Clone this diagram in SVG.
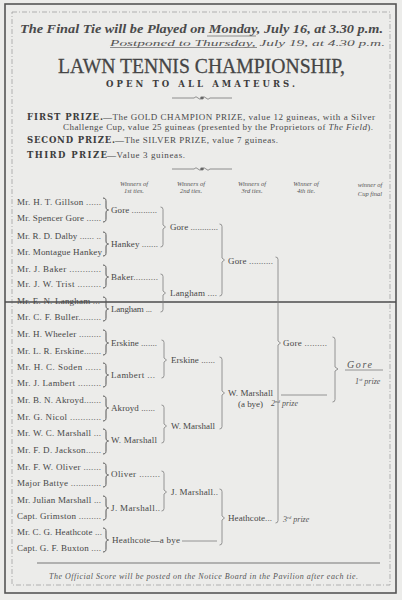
<svg xmlns="http://www.w3.org/2000/svg" width="402" height="600" viewBox="0 0 402 600">
<style>
.nm{font-family:"Liberation Serif",serif;font-size:9px;fill:#474747}
.hd{font-family:"Liberation Serif",serif;font-style:italic;font-size:6.5px;fill:#555}
.hw{font-family:"Liberation Serif",serif;font-style:italic;fill:#555}
.pr{font-family:"DejaVu Serif",serif;font-weight:bold;font-size:8.5px;fill:#3d3d3d}
.tx{font-family:"Liberation Serif",serif;font-size:9px;fill:#4a4a4a}
.br{fill:none;stroke:#7d7d7d;stroke-width:0.8}
.cb{fill:none;stroke:#555;stroke-width:1}
.ln{fill:none;stroke:#777;stroke-width:0.8}
</style>
<rect width="402" height="600" fill="#ececea"/>
<g id="frame">
<rect x="5" y="4" width="391" height="589" fill="none" stroke="#555" stroke-width="1.6"/>
<rect x="12" y="12" width="378" height="573" fill="none" stroke="#9a9a9a" stroke-width="0.7" stroke-dasharray="5 2 1 2"/>
<path d="M5,302 H396" stroke="#4d4d4d" stroke-width="1.6"/>
<path d="M37,563 H380" stroke="#777" stroke-width="1.2"/>
</g>
<g id="header">
<text x="20" y="33" textLength="363" lengthAdjust="spacingAndGlyphs" font-family="Liberation Serif, serif" font-style="italic" font-weight="bold" font-size="13.5" fill="#4a4a4a">The Final Tie will be Played on Monday, July 16, at 3.30 p.m.</text>
<path d="M207,36 H256" class="ln"/>
<text x="110" y="46" textLength="275" lengthAdjust="spacingAndGlyphs" class="hw" font-size="9" fill="#666">Postponed to Thursday, July 19, at 4.30 p.m.</text>
<path d="M110,47.5 H257" class="ln" stroke-width="0.6"/>
<text x="58" y="73" textLength="287" lengthAdjust="spacingAndGlyphs" font-family="Liberation Serif, serif" font-size="22" fill="#454545" stroke="#454545" stroke-width="0.3">LAWN TENNIS CHAMPIONSHIP,</text>
<text x="106" y="87" textLength="189" class="pr" font-size="7.5">OPEN TO ALL AMATEURS.</text>
<g class="ln">
<path d="M172,98 H194 M210,98 H232"/>
<path d="M194,98 q2,-2.5 4,0 q2,2.5 4,0 q2,-2.5 4,0 q2,2.5 4,0"/>
<path d="M172,169 H194 M210,169 H232"/>
<path d="M194,169 q2,-2.5 4,0 q2,2.5 4,0 q2,-2.5 4,0 q2,2.5 4,0"/>
</g>
<ellipse cx="202" cy="98" rx="1.8" ry="1.4" fill="#666"/>
<ellipse cx="202" cy="169" rx="1.8" ry="1.4" fill="#666"/>
<text x="27" y="120" textLength="76" class="pr">FIRST PRIZE.</text>
<text x="103" y="120" textLength="272" class="tx">—The GOLD CHAMPION PRIZE, value 12 guineas, with a Silver</text>
<text x="63" y="130" textLength="310" class="tx">Challenge Cup, value 25 guineas (presented by the Proprietors of <tspan font-style="italic">The Field</tspan>).</text>
<text x="27" y="143" textLength="88" class="pr">SECOND PRIZE.</text>
<text x="115" y="143" textLength="163" class="tx">—The SILVER PRIZE, value 7 guineas.</text>
<text x="27" y="158" textLength="80" class="pr">THIRD PRIZE</text>
<text x="107" y="158" textLength="78" class="tx"> —Value 3 guineas.</text>
</g>
<g id="column-heads" text-anchor="middle">
<text x="134" y="185.5" class="hd">Winners of</text><text x="134" y="193" class="hd">1st ties.</text>
<text x="191" y="185.5" class="hd">Winners of</text><text x="191" y="193" class="hd">2nd ties.</text>
<text x="252" y="185.5" class="hd">Winners of</text><text x="252" y="193" class="hd">3rd ties.</text>
<text x="306" y="185.5" class="hd">Winner of</text><text x="306" y="193" class="hd">4th tie.</text>
<text x="370" y="187" class="hw" font-size="6.5">winner of</text><text x="370" y="196" class="hw" font-size="6.5">Cup final</text>
</g>
<g id="players">
<g id="p01"><text x="17" y="205" textLength="84" class="nm">Mr. H. T. Gillson ......</text></g>
<g id="p02"><text x="17" y="221" textLength="84" class="nm">Mr. Spencer Gore ......</text></g>
<g id="p03"><text x="17" y="239" textLength="84" class="nm">Mr. R. D. Dalby ...... ..</text></g>
<g id="p04"><text x="17" y="255" textLength="85" class="nm">Mr. Montague Hankey</text></g>
<g id="p05"><text x="17" y="272" textLength="84" class="nm">Mr. J. Baker ............</text></g>
<g id="p06"><text x="17" y="287" textLength="84" class="nm">Mr. J. W. Trist .........</text></g>
<g id="p07"><text x="17" y="304" textLength="83" class="nm">Mr. E. N. Langham ...</text></g>
<g id="p08"><text x="17" y="320" textLength="84" class="nm">Mr. C. F. Buller.........</text></g>
<g id="p09"><text x="17" y="337" textLength="84" class="nm">Mr. H. Wheeler .........</text></g>
<g id="p10"><text x="17" y="354" textLength="84" class="nm">Mr. L. R. Erskine.......</text></g>
<g id="p11"><text x="17" y="370" textLength="84" class="nm">Mr. H. C. Soden  ......</text></g>
<g id="p12"><text x="17" y="386" textLength="84" class="nm">Mr. J. Lambert .........</text></g>
<g id="p13"><text x="17" y="403" textLength="84" class="nm">Mr. B. N. Akroyd.......</text></g>
<g id="p14"><text x="17" y="420" textLength="84" class="nm">Mr. G. Nicol ............</text></g>
<g id="p15"><text x="17" y="436" textLength="84" class="nm">Mr. W. C. Marshall ...</text></g>
<g id="p16"><text x="17" y="453" textLength="84" class="nm">Mr. F. D. Jackson......</text></g>
<g id="p17"><text x="17" y="470" textLength="84" class="nm">Mr. F. W. Oliver .......</text></g>
<g id="p18"><text x="17" y="486" textLength="84" class="nm">Major Battye ............</text></g>
<g id="p19"><text x="17" y="503" textLength="84" class="nm">Mr. Julian Marshall ...</text></g>
<g id="p20"><text x="17" y="519" textLength="84" class="nm">Capt. Grimston .........</text></g>
<g id="p21"><text x="17" y="535" textLength="85" class="nm">Mr. C. G. Heathcote ...</text></g>
<g id="p22"><text x="17" y="551" textLength="84" class="nm">Capt. G. F. Buxton ....</text></g>
</g>
<g id="round1">
<g id="r1-gore"><text x="111" y="213" textLength="46" class="nm">Gore ...........</text></g>
<g id="r1-hankey"><text x="111" y="247" textLength="47" class="nm">Hankey .......</text></g>
<g id="r1-baker"><text x="111" y="280" textLength="47" class="nm">Baker..........</text></g>
<g id="r1-langham"><text x="111" y="312" textLength="41" class="nm">Langham ...</text></g>
<g id="r1-erskine"><text x="111" y="346" textLength="46" class="nm">Erskine .......</text></g>
<g id="r1-lambert"><text x="111" y="378" textLength="44" class="nm">Lambert  ...</text></g>
<g id="r1-akroyd"><text x="111" y="411" textLength="44" class="nm">Akroyd ......</text></g>
<g id="r1-wmarshall"><text x="111" y="443" textLength="46" class="nm">W. Marshall</text></g>
<g id="r1-oliver"><text x="111" y="477" textLength="49" class="nm">Oliver  ........</text></g>
<g id="r1-jmarshall"><text x="111" y="511" textLength="49" class="nm">J. Marshall..</text></g>
<g id="r1-heathcote"><text x="112" y="543" textLength="68" class="nm">Heathcote—a bye</text></g>
</g>
<g id="round2">
<g id="r2-gore"><text x="170" y="230" textLength="48" class="nm">Gore ............</text></g>
<g id="r2-langham"><text x="170" y="296" textLength="47" class="nm">Langham ....</text></g>
<g id="r2-erskine"><text x="171" y="363" textLength="44" class="nm">Erskine ......</text></g>
<g id="r2-wmarshall"><text x="171" y="429" textLength="44" class="nm">W. Marshall</text></g>
<g id="r2-jmarshall"><text x="171" y="495" textLength="47" class="nm">J. Marshall..</text></g>
</g>
<g id="round3">
<g id="r3-gore"><text x="228" y="264" textLength="45" class="nm">Gore ..........</text></g>
<g id="r3-wmarshall"><text x="228" y="396" textLength="45" class="nm">W. Marshall</text><text x="238" y="406.5" textLength="25" class="nm">(a bye)</text></g>
<g id="r3-heathcote"><text x="228" y="521" textLength="44" class="nm">Heathcote...</text></g>
</g>
<g id="round4">
<g id="r4-gore"><text x="283" y="346" textLength="44" class="nm">Gore .........</text></g>
</g>
<g id="final">
<text x="347" y="368" class="hw" font-size="10" textLength="25">Gore</text>
<text x="355" y="384" class="hw" font-size="8">1<tspan font-size="5" dy="-3">st</tspan><tspan dy="3"> prize</tspan></text>
<text x="271" y="406" class="hw" font-size="8">2<tspan font-size="5" dy="-3">nd</tspan><tspan dy="3"> prize</tspan></text>
<text x="283" y="522" class="hw" font-size="8">3<tspan font-size="5" dy="-3">rd</tspan><tspan dy="3"> prize</tspan></text>
</g>
<g id="connectors">
<g class="cb">
<path d="M103,198 C106,198 106,200 106,202 V207 C106,209 107,210 108.5,210 C107,210 106,211 106,213 V218 C106,220 106,222 103,222"/>
<path d="M103,232 C106,232 106,234 106,236 V241 C106,243 107,244 108.5,244 C107,244 106,245 106,247 V252 C106,254 106,256 103,256"/>
<path d="M103,265 C106,265 106,267 106,269 V274 C106,276 107,277 108.5,277 C107,277 106,278 106,280 V284 C106,286 106,288 103,288"/>
<path d="M103,297 C106,297 106,299 106,301 V306 C106,308 107,309 108.5,309 C107,309 106,310 106,312 V317 C106,319 106,321 103,321"/>
<path d="M103,330 C106,330 106,332 106,334 V340 C106,342 107,343 108.5,343 C107,343 106,344 106,346 V351 C106,353 106,355 103,355"/>
<path d="M103,363 C106,363 106,365 106,367 V372 C106,374 107,375 108.5,375 C107,375 106,376 106,378 V383 C106,385 106,387 103,387"/>
<path d="M103,396 C106,396 106,398 106,400 V405 C106,407 107,408 108.5,408 C107,408 106,409 106,411 V417 C106,419 106,421 103,421"/>
<path d="M103,429 C106,429 106,431 106,433 V438 C106,440 107,441 108.5,441 C107,441 106,442 106,444 V450 C106,452 106,454 103,454"/>
<path d="M103,463 C106,463 106,465 106,467 V472 C106,474 107,475 108.5,475 C107,475 106,476 106,478 V483 C106,485 106,487 103,487"/>
<path d="M103,496 C106,496 106,498 106,500 V505 C106,507 107,508 108.5,508 C107,508 106,509 106,511 V516 C106,518 106,520 103,520"/>
<path d="M103,528 C106,528 106,530 106,532 V537 C106,539 107,540 108.5,540 C107,540 106,541 106,543 V548 C106,550 106,552 103,552"/>
</g>
<g class="br">
<path d="M160.5,207 Q163,207 163,209.5 V225 L165.5,227 L163,229 V244.5 Q163,247 160.5,247"/>
<path d="M160.5,274 Q163,274 163,276.5 V291 L165.5,293 L163,295 V309.5 Q163,312 160.5,312"/>
<path d="M161.5,340 Q164,340 164,342.5 V358 L166.5,360 L164,362 V375.5 Q164,378 161.5,378"/>
<path d="M161.5,405 Q164,405 164,407.5 V424 L166.5,426 L164,428 V440.5 Q164,443 161.5,443"/>
<path d="M161.5,471 Q164,471 164,473.5 V490 L166.5,492 L164,494 V508.5 Q164,511 161.5,511"/>
<path d="M182,541 H217"/>
<path d="M219.5,224 Q222,224 222,226.5 V258 L224.5,260 L222,262 V293.5 Q222,296 219.5,296"/>
<path d="M219.5,357 Q222,357 222,359.5 V391 L224.5,393 L222,395 V426.5 Q222,429 219.5,429"/>
<path d="M219.5,489 Q222,489 222,491.5 V516 L224.5,518 L222,520 V542.5 Q222,545 219.5,545"/>
<path d="M275.5,257 Q278,257 278,259.5 V341 L280.5,343 L278,345 V520.5 Q278,523 275.5,523"/>
<path d="M281,395 H327"/>
<path d="M332.5,337 Q335,337 335,339.5 V367 L338,369 L335,371 V399.5 Q335,402 332.5,402"/>
<path d="M345,370 H383"/>
</g>
</g>
<g id="footer">
<text x="49" y="579" textLength="309" class="hw" font-size="8" fill="#4a4a4a">The Official Score will be posted on the Notice Board in the Pavilion after each tie.</text>
</g>
</svg>
